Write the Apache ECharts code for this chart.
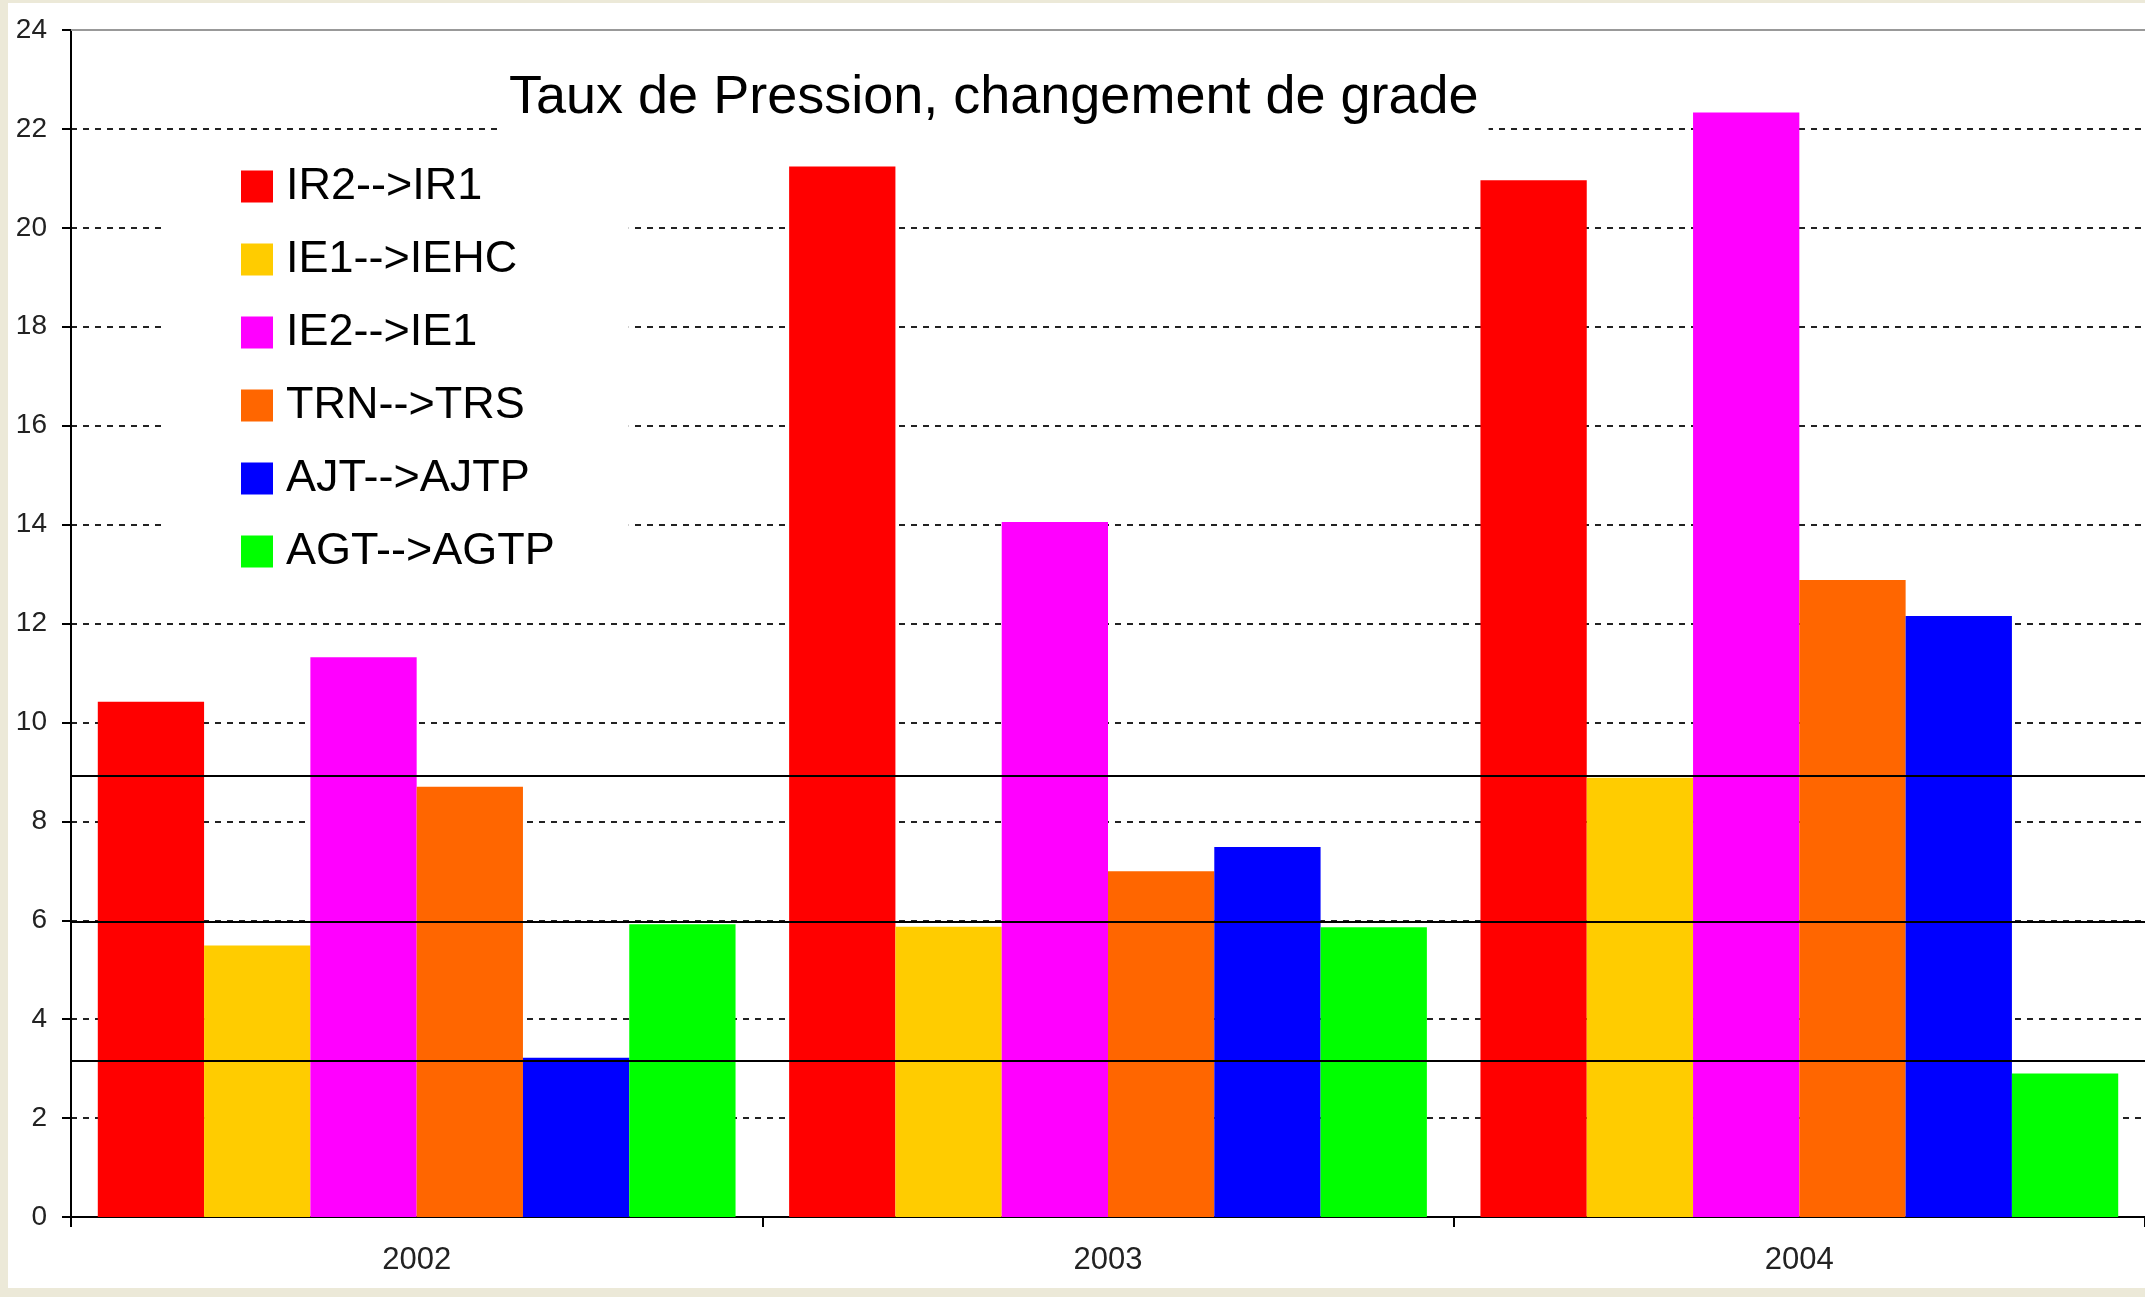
<!DOCTYPE html>
<html>
<head>
<meta charset="utf-8">
<script src="https://cdn.jsdelivr.net/npm/echarts@6/dist/echarts.min.js"></script>
<style>
html,body{margin:0;padding:0;background:#ECE9D8;width:2145px;height:1297px;overflow:hidden;}
#panel{position:absolute;left:8px;top:3px;width:2137px;height:1285px;background:#fff;}
#chart{position:absolute;left:0;top:0;width:2145px;height:1297px;}
</style>
</head>
<body>
<div id="panel"></div>
<div id="chart"></div>
<script>
const categories = ['2002', '2003', '2004'];
const seriesNames = ['IR2-->IR1', 'IE1-->IEHC', 'IE2-->IE1', 'TRN-->TRS', 'AJT-->AJTP', 'AGT-->AGTP'];
const ir2_ir1 = [10.42, 21.24, 20.96];
const ie1_iehc = [5.49, 5.87, 8.88];
const ie2_ie1 = [11.32, 14.05, 22.33];
const trn_trs = [8.70, 6.99, 12.88];
const ajt_ajtp = [3.22, 7.48, 12.15];
const agt_agtp = [5.92, 5.86, 2.90];
const refLines = [8.92, 5.97, 3.16];
const titleText = 'Taux de Pression, changement de grade';

const seriesValues = [ir2_ir1, ie1_iehc, ie2_ie1, trn_trs, ajt_ajtp, agt_agtp];
const colors = ['#FF0000', '#FFCC00', '#FF00FF', '#FF6600', '#0000FF', '#00FF00'];
const FONT = '"Liberation Sans", Arial, sans-serif';

const chart = echarts.init(document.getElementById('chart'), null, {renderer: 'canvas'});

const series = seriesNames.map((name, i) => {
  const s = {
    name: name,
    type: 'bar',
    data: seriesValues[i],
    itemStyle: {color: colors[i]},
    barGap: '0%',
    barCategoryGap: '7.75%',
    animation: false
  };
  if (i === 0) {
    s.markLine = {
      silent: true,
      symbol: ['none', 'none'],
      label: {show: false},
      lineStyle: {type: 'solid', color: '#000', width: 2},
      data: refLines.map(v => ({yAxis: v}))
    };
  }
  return s;
});

chart.setOption({
  backgroundColor: 'transparent',
  animation: false,
  color: colors,
  title: {
    text: titleText,
    left: 499,
    top: 44,
    padding: [24, 10, 10, 10],
    backgroundColor: '#fff',
    textStyle: {fontFamily: FONT, fontSize: 54, fontWeight: 'normal', color: '#000', lineHeight: 60}
  },
  legend: {
    orient: 'vertical',
    left: 167,
    top: 139,
    padding: [25, 74, 25, 74],
    backgroundColor: '#fff',
    itemWidth: 32,
    itemHeight: 32,
    itemGap: 28,
    icon: 'rect',
    data: seriesNames,
    textStyle: {fontFamily: FONT, fontSize: 45, lineHeight: 45, color: '#000', padding: [0, 0, 0, 8]}
  },
  grid: {left: 71, top: 30, width: 2076, height: 1187, containLabel: false},
  xAxis: [{
    type: 'category',
    data: categories,
    position: 'bottom',
    axisLine: {lineStyle: {color: '#000', width: 2}},
    axisTick: {show: true, length: 10, lineStyle: {color: '#000', width: 2}},
    axisLabel: {fontFamily: FONT, fontSize: 31, color: '#222', margin: 28},
    splitLine: {show: false}
  }, {
    type: 'category',
    data: categories,
    position: 'top',
    axisLine: {lineStyle: {color: '#999', width: 2}},
    axisTick: {show: false},
    axisLabel: {show: false},
    splitLine: {show: false}
  }],
  yAxis: {
    type: 'value',
    min: 0,
    max: 24,
    interval: 2,
    axisLine: {show: true, lineStyle: {color: '#000', width: 2}},
    axisTick: {show: true, length: 9, lineStyle: {color: '#000', width: 2}},
    axisLabel: {fontFamily: FONT, fontSize: 28, color: '#222', margin: 24},
    splitLine: {show: true, showMinLine: false, showMaxLine: false, lineStyle: {color: '#222', width: 2, type: [6, 6]}}
  },
  series: series
});
</script>
</body>
</html>
